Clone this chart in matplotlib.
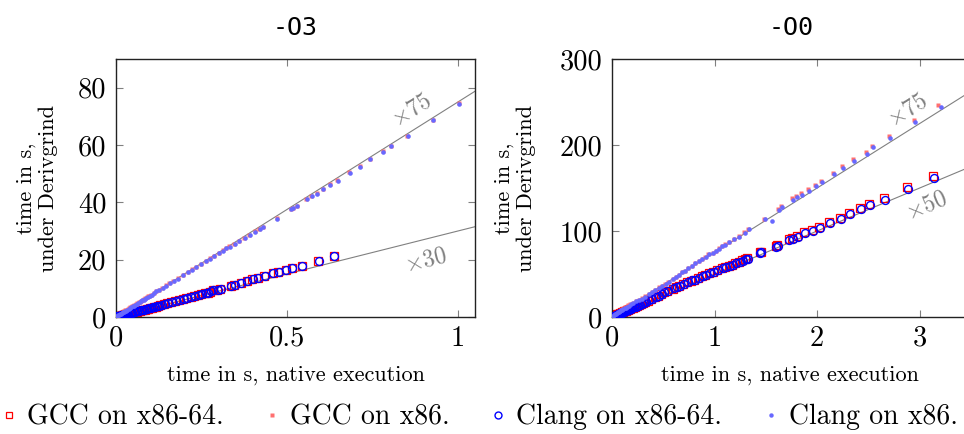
import matplotlib
matplotlib.use("Agg")
import matplotlib.pyplot as plt
import numpy as np
from matplotlib.ticker import FixedLocator, FuncFormatter
from matplotlib.lines import Line2D

plt.rcParams['mathtext.fontset'] = 'cm'
plt.rcParams['axes.formatter.use_mathtext'] = True
plt.rcParams['axes.unicode_minus'] = False

# ---------------- data: -O3 ----------------
o3_x64_gcc_x = [0.003,0.006,0.009,0.012,0.015,0.018,0.021,0.024,0.027,0.030,0.034,0.038,0.042,0.046,0.050,0.055,0.060,0.065,0.070,0.075,0.080,0.085,0.090,0.095,0.100,0.105,0.110,0.116,0.122,0.130,0.141,0.150,0.161,0.172,0.185,0.195,0.205,0.218,0.229,0.240,0.249,0.260,0.268,0.276,0.283,0.295,0.305,0.335,0.346,0.366,0.382,0.399,0.414,0.434,0.458,0.475,0.497,0.515,0.543,0.592,0.638]
o3_x64_gcc_y = [0.2,0.3,0.4,0.5,0.5,0.6,0.7,0.8,0.9,1.0,1.1,1.2,1.3,1.4,1.6,1.7,1.9,2.0,2.2,2.3,2.5,2.6,2.8,2.9,3.1,3.3,3.4,3.6,3.9,4.1,4.5,4.8,5.1,5.5,5.8,6.2,6.5,6.9,7.2,7.6,8.0,8.2,8.4,8.8,9.3,9.4,9.7,10.8,11.3,11.9,12.5,13.1,13.7,14.2,15.2,15.8,16.5,17.0,17.9,19.6,21.3]
o3_x64_clang_x = [0.004,0.007,0.010,0.013,0.016,0.019,0.022,0.025,0.028,0.032,0.036,0.040,0.044,0.048,0.052,0.057,0.062,0.067,0.072,0.077,0.082,0.087,0.092,0.097,0.102,0.107,0.113,0.119,0.125,0.134,0.144,0.153,0.164,0.175,0.187,0.198,0.208,0.220,0.231,0.242,0.251,0.262,0.270,0.278,0.285,0.297,0.306,0.336,0.347,0.367,0.383,0.400,0.415,0.435,0.459,0.476,0.498,0.516,0.544,0.593,0.639]
o3_x64_clang_y = [0.3,0.4,0.5,0.5,0.6,0.7,0.8,0.9,1.0,1.1,1.2,1.3,1.4,1.5,1.7,1.8,2.0,2.1,2.3,2.4,2.6,2.7,2.9,3.0,3.2,3.4,3.5,3.7,4.0,4.2,4.6,4.9,5.2,5.6,5.9,6.3,6.6,7.0,7.3,7.7,8.0,8.3,8.5,8.9,9.3,9.5,9.8,10.9,11.3,11.9,12.5,13.1,13.7,14.2,15.2,15.8,16.5,17.0,17.9,19.6,21.2]

o3_x86_gcc_x = [0.003,0.006,0.009,0.012,0.015,0.018,0.021,0.024,0.027,0.030,0.034,0.038,0.042,0.046,0.050,0.054,0.058,0.062,0.066,0.070,0.074,0.078,0.082,0.086,0.090,0.094,0.097,0.103,0.110,0.117,0.125,0.136,0.146,0.156,0.168,0.180,0.195,0.210,0.222,0.234,0.248,0.263,0.275,0.287,0.300,0.312,0.322,0.331,0.346,0.360,0.375,0.390,0.407,0.419,0.429,0.471,0.512,0.518,0.528,0.557,0.571,0.587,0.604,0.626,0.647,0.682,0.713,0.743,0.781,0.804,0.852,0.926,1.003]
o3_x86_gcc_y = [0.6,0.9,1.1,1.3,1.5,1.7,1.9,2.1,2.3,2.5,2.8,3.1,3.4,3.7,4.0,4.2,4.5,4.8,5.1,5.4,5.7,6.0,6.3,6.6,6.9,7.2,7.4,7.8,8.4,9.0,9.5,10.2,11.0,11.8,12.7,13.5,14.7,15.7,16.6,17.5,18.6,19.7,20.5,21.4,22.4,23.2,24.0,24.6,25.6,26.6,27.5,28.6,29.9,30.8,31.5,34.4,37.8,38.1,38.7,41.3,42.2,43.1,44.8,46.3,47.7,50.5,52.6,55.1,57.8,59.6,63.1,68.7,74.5]
o3_x86_clang_x = [0.002,0.005,0.008,0.011,0.014,0.017,0.020,0.023,0.026,0.029,0.033,0.037,0.041,0.045,0.049,0.053,0.057,0.061,0.065,0.069,0.073,0.077,0.081,0.085,0.089,0.093,0.098,0.104,0.111,0.118,0.126,0.137,0.147,0.157,0.169,0.181,0.196,0.211,0.223,0.235,0.249,0.264,0.276,0.288,0.301,0.313,0.323,0.332,0.347,0.361,0.376,0.391,0.408,0.420,0.430,0.472,0.513,0.519,0.529,0.558,0.572,0.588,0.605,0.627,0.648,0.683,0.714,0.744,0.782,0.805,0.853,0.927,1.004]
o3_x86_clang_y = [0.4,0.6,0.8,1.0,1.2,1.4,1.6,1.8,2.0,2.2,2.5,2.8,3.1,3.4,3.7,4.0,4.3,4.6,4.9,5.2,5.5,5.8,6.1,6.4,6.7,7.0,7.3,7.7,8.3,8.9,9.4,10.1,10.9,11.7,12.6,13.4,14.6,15.6,16.5,17.4,18.5,19.6,20.4,21.3,22.3,23.1,23.9,24.5,25.5,26.5,27.4,28.5,29.8,30.7,31.4,34.3,37.7,38.0,38.6,41.2,42.1,43.0,44.7,46.2,47.6,50.4,52.5,55.0,57.7,59.5,63.0,68.6,74.4]

# ---------------- data: -O0 ----------------
o0_x64_gcc_x = [0.01,0.02,0.03,0.04,0.05,0.06,0.07,0.08,0.09,0.10,0.11,0.12,0.13,0.14,0.15,0.16,0.17,0.18,0.19,0.20,0.22,0.24,0.26,0.28,0.30,0.325,0.35,0.38,0.42,0.45,0.48,0.505,0.54,0.59,0.62,0.65,0.69,0.73,0.77,0.80,0.84,0.88,0.91,0.95,0.98,1.02,1.07,1.10,1.14,1.17,1.20,1.24,1.27,1.30,1.32,1.44,1.45,1.595,1.61,1.725,1.75,1.80,1.875,1.95,2.02,2.12,2.22,2.31,2.42,2.51,2.65,2.88,3.13]
o0_x64_gcc_y = [1.0,1.5,2.0,2.5,3.0,3.5,4.0,4.5,5.0,5.5,6.0,6.5,7.0,7.5,8.0,8.5,9.0,9.5,10.0,10.6,11.7,12.8,14.0,15.1,16.2,17.6,19.0,20.6,23.0,24.7,26.5,28.7,30.5,33.0,34.8,36.4,38.5,40.3,42.4,43.4,45.5,47.3,48.8,51.0,52.0,55.0,56.6,58.0,59.7,61.0,62.8,64.5,65.9,67.5,68.2,75.4,75.9,82.2,83.7,90.7,91.9,94.5,98.5,101.5,105.0,110.8,115.5,120.9,126.4,131.0,138.0,150.8,163.6]
o0_x64_clang_x = [0.015,0.025,0.035,0.045,0.055,0.065,0.075,0.085,0.095,0.105,0.115,0.125,0.135,0.145,0.155,0.165,0.175,0.185,0.195,0.21,0.23,0.25,0.27,0.29,0.31,0.33,0.36,0.39,0.43,0.46,0.49,0.51,0.55,0.60,0.63,0.66,0.70,0.74,0.78,0.81,0.85,0.89,0.92,0.96,0.99,1.03,1.08,1.11,1.15,1.18,1.21,1.25,1.28,1.31,1.33,1.44,1.45,1.60,1.62,1.73,1.76,1.81,1.88,1.96,2.03,2.13,2.23,2.32,2.43,2.52,2.66,2.89,3.14]
o0_x64_clang_y = [1.2,1.7,2.2,2.7,3.2,3.7,4.2,4.7,5.2,5.7,6.2,6.7,7.2,7.7,8.2,8.7,9.2,9.7,10.2,11.1,12.2,13.3,14.5,15.6,16.7,17.8,19.5,21.0,23.4,25.0,26.8,28.5,30.7,33.2,35.0,36.6,38.7,40.5,42.6,43.5,45.6,47.4,48.9,51.0,51.9,54.8,56.4,57.8,59.4,60.7,62.4,64.1,65.5,67.0,67.8,74.8,75.3,81.4,82.9,89.8,91.1,93.6,97.6,100.5,104.0,109.8,114.5,119.8,125.2,129.8,136.6,149.3,161.9]

o0_x86_gcc_x = [0.01,0.02,0.03,0.04,0.05,0.06,0.07,0.08,0.09,0.10,0.11,0.12,0.13,0.14,0.16,0.18,0.20,0.23,0.26,0.29,0.32,0.36,0.39,0.42,0.46,0.49,0.52,0.55,0.59,0.62,0.65,0.68,0.71,0.74,0.78,0.81,0.85,0.88,0.91,0.94,0.98,1.01,1.04,1.07,1.10,1.14,1.19,1.24,1.29,1.33,1.48,1.62,1.65,1.75,1.79,1.84,1.91,1.98,2.04,2.15,2.24,2.35,2.48,2.53,2.70,2.94,3.18]
o0_x86_gcc_y = [1.5,2.4,3.2,4.0,4.8,5.6,6.4,7.2,8.0,8.8,9.6,10.4,11.2,12.0,13.5,15.0,16.5,18.5,20.0,21.7,24.0,26.7,29.5,31.4,34.5,36.4,38.8,41.1,44.2,46.2,48.8,52.0,54.0,56.6,59.5,62.8,65.0,67.4,69.5,73.3,75.0,77.1,79.8,82.9,84.5,87.6,90.7,93.8,98.4,102.3,114.5,125.5,128.5,138.0,141.0,144.0,148.5,154.0,158.5,168.0,175.5,183.5,192.0,199.0,210.0,229.0,246.5]
o0_x86_clang_x = [0.012,0.022,0.032,0.042,0.052,0.062,0.072,0.082,0.092,0.102,0.112,0.122,0.132,0.142,0.162,0.182,0.202,0.232,0.262,0.292,0.322,0.362,0.392,0.422,0.462,0.492,0.522,0.552,0.592,0.622,0.652,0.682,0.712,0.742,0.782,0.812,0.852,0.882,0.912,0.942,0.982,1.012,1.042,1.072,1.102,1.142,1.192,1.242,1.292,1.332,1.49,1.56,1.63,1.66,1.76,1.80,1.85,1.92,1.99,2.05,2.16,2.25,2.36,2.49,2.54,2.71,2.95,3.21]
o0_x86_clang_y = [1.3,2.2,3.0,3.8,4.6,5.4,6.2,7.0,7.8,8.6,9.4,10.2,11.0,11.8,13.3,14.8,16.3,18.3,19.8,21.5,23.8,26.5,29.3,31.2,34.3,36.2,38.6,40.9,44.0,46.0,48.6,51.8,53.8,56.4,59.3,62.6,64.8,67.2,69.3,73.1,74.8,76.9,79.6,82.7,84.3,87.4,90.5,93.6,98.2,102.1,114.0,112.0,124.8,127.5,136.4,139.2,142.2,146.9,152.0,156.6,165.9,173.6,181.8,190.0,197.3,208.0,227.0,243.8]

o3_factors = [75, 30]
o0_factors = [75, 50]
series_labels = ["GCC on x86-64.", "GCC on x86.", "Clang on x86-64.", "Clang on x86."]

# ---------------- styles ----------------
RED = "#ff0000"
LRED = "#ff7070"
BLUE = "#0000ff"
LBLUE = "#6868ff"
GRAY = "#808080"
SERIF = "cmr10"

W, H = 964, 434
fig = plt.figure(figsize=(W / 100, H / 100), dpi=100)

def make_axes(left_px, xlim, ylim, xticks, yticks):
    ax = fig.add_axes([left_px / W, (H - 317) / H, 359 / W, 258 / H])
    ax.set_xlim(*xlim)
    ax.set_ylim(*ylim)
    ax.xaxis.set_major_locator(FixedLocator(xticks))
    ax.yaxis.set_major_locator(FixedLocator(yticks))
    fmt = FuncFormatter(lambda v, p: ("%g" % v))
    ax.xaxis.set_major_formatter(fmt)
    ax.yaxis.set_major_formatter(fmt)
    ax.tick_params(direction="in", length=5, width=0.8, color=GRAY,
                   top=True, right=True, labelsize=20.5)
    ax.tick_params(axis="x", pad=6)
    ax.tick_params(axis="y", pad=7)
    for lab in ax.get_xticklabels() + ax.get_yticklabels():
        lab.set_fontfamily(SERIF)
    for s in ax.spines.values():
        s.set_linewidth(1.0)
        s.set_color("#222222")
    return ax

def draw(ax, data, factors, labelpos):
    xmax = ax.get_xlim()[1]
    xs = np.array([0.0, xmax])
    for f in factors:
        ax.plot(xs, f * xs, color=GRAY, lw=0.8, zorder=1)
    (gx64x, gx64y), (gx86x, gx86y), (cx64x, cx64y), (cx86x, cx86y) = data
    ax.plot(gx64x, gx64y, ls="none", marker="s", ms=5.7, mfc="none", mec=RED, mew=0.9, zorder=2)
    ax.plot(gx86x, gx86y, ls="none", marker="s", ms=3.3, mfc=LRED, mec="none", zorder=3)
    ax.plot(cx64x, cx64y, ls="none", marker="o", ms=5.7, mfc="none", mec=BLUE, mew=1.0, zorder=4)
    ax.plot(cx86x, cx86y, ls="none", marker="o", ms=3.3, mfc=LBLUE, mec="none", zorder=5)
    for f, (tx, ty) in zip(factors, labelpos):
        p0 = ax.transData.transform((0, 0))
        p1 = ax.transData.transform((1, f))
        ang = np.degrees(np.arctan2(p1[1] - p0[1], p1[0] - p0[0]))
        ax.text(tx, ty, r"$\times%d$" % f, color=GRAY, fontsize=17,
                rotation=ang, rotation_mode="anchor", ha="center", va="center")
    ax.set_xlabel("time in s, native execution", fontfamily=SERIF, fontsize=16)
    ax.set_ylabel("time in s,\nunder Derivgrind", fontfamily=SERIF, fontsize=16, linespacing=1.15)

ax1 = make_axes(116, (0, 1.05), (0, 90), [0, 0.5, 1], [0, 20, 40, 60, 80])
draw(ax1, [(o3_x64_gcc_x, o3_x64_gcc_y), (o3_x86_gcc_x, o3_x86_gcc_y),
           (o3_x64_clang_x, o3_x64_clang_y), (o3_x86_clang_x, o3_x86_clang_y)],
     o3_factors, [(0.862, 72.5), (0.905, 20.0)])
ax1.xaxis.set_label_coords(0.5, -0.187)
ax1.yaxis.set_label_coords(-0.162, 0.5)
ax1.set_title("-O3", fontfamily="DejaVu Sans Mono", fontsize=18, pad=17)

ax2 = make_axes(612, (0, 3.5), (0, 300), [0, 1, 2, 3], [0, 100, 200, 300])
draw(ax2, [(o0_x64_gcc_x, o0_x64_gcc_y), (o0_x86_gcc_x, o0_x86_gcc_y),
           (o0_x64_clang_x, o0_x64_clang_y), (o0_x86_clang_x, o0_x86_clang_y)],
     o0_factors, [(2.88, 241.0), (3.06, 130.0)])
ax2.xaxis.set_label_coords(0.496, -0.187)
ax2.yaxis.set_label_coords(-0.213, 0.5)
ax2.set_title("-O0", fontfamily="DejaVu Sans Mono", fontsize=18, pad=17)

handles = [
    Line2D([], [], ls="none", marker="s", ms=5, mfc="none", mec=RED, mew=0.9),
    Line2D([], [], ls="none", marker="s", ms=3.2, mfc=LRED, mec="none"),
    Line2D([], [], ls="none", marker="o", ms=5, mfc="none", mec=BLUE, mew=1.0),
    Line2D([], [], ls="none", marker="o", ms=3.2, mfc=LBLUE, mec="none"),
]
fig.legend(handles, series_labels, loc="center", bbox_to_anchor=(0.497, (H - 417) / H),
           ncol=4, frameon=False, prop={"family": SERIF, "size": 20},
           handlelength=0.6, handletextpad=0.35, columnspacing=1.45, borderaxespad=0,
           borderpad=0)

fig.savefig("out.png", dpi=100)
